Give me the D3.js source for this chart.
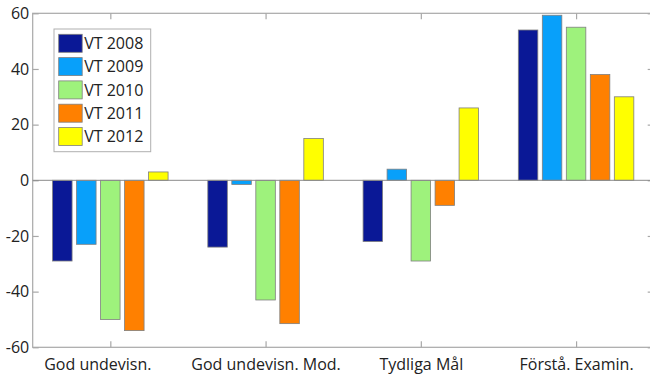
<!DOCTYPE html>
<html>
<head>
<meta charset="utf-8">
<script src="https://cdn.jsdelivr.net/npm/d3@7"></script>
<style>
  html, body { margin: 0; padding: 0; background: #fff; }
  svg { display: block; }
  text { font-family: "Open Sans", "Noto Sans", sans-serif; fill: #222; }
</style>
</head>
<body>
<svg id="chart" width="650" height="375"></svg>
<script>
const categories = ["God undevisn.", "God undevisn. Mod.", "Tydliga Mål", "Förstå. Examin."];
const seriesNames = ["VT 2008", "VT 2009", "VT 2010", "VT 2011", "VT 2012"];
const vt2008 = [-29, -24, -22, 54];
const vt2009 = [-23, -1.5, 4, 59.3];
const vt2010 = [-50, -43, -29, 55];
const vt2011 = [-54, -51.5, -9, 38];
const vt2012 = [3, 15, 26, 30];
const yTicks = [-60, -40, -20, 0, 20, 40, 60];
const seriesColors = ["#0a1896", "#08a0fa", "#9ef27c", "#ff8000", "#ffff00"];

const seriesValues = [vt2008, vt2009, vt2010, vt2011, vt2012];

const svg = d3.select("#chart");
const pLeft = 32.7, pRight = 653.7, pTop = 13.3, pBottom = 347.3;

const x = d3.scaleLinear().domain([0.5, 4.5]).range([pLeft, pRight]);
const y = d3.scaleLinear().domain([-60, 60]).range([pBottom, pTop]);
const groupStep = x(2) - x(1);
const inner = d3.scaleBand().domain(seriesNames)
  .range([-groupStep * 0.372, groupStep * 0.372]).paddingInner(0.1875).paddingOuter(0);

const frameColor = "#a8a8a8";
svg.append("rect").attr("x", pLeft).attr("y", pTop).attr("width", pRight - pLeft).attr("height", pBottom - pTop)
  .attr("fill", "none").attr("stroke", frameColor).attr("stroke-width", 1.2);

const yAxisL = d3.axisLeft(y).tickValues(yTicks).tickSize(-6).tickPadding(3.5).tickFormat((d) => String(d));
const gL = svg.append("g").attr("transform", `translate(${pLeft},0)`).call(yAxisL);
const yAxisR = d3.axisRight(y).tickValues(yTicks).tickSize(-6).tickFormat("");
const gR = svg.append("g").attr("transform", `translate(${pRight},0)`).call(yAxisR);
const xAxisB = d3.axisBottom(x).tickValues([1, 2, 3, 4]).tickSize(-6).tickPadding(11)
  .tickFormat((d) => categories[d - 1]);
const gB = svg.append("g").attr("transform", `translate(0,${pBottom})`).call(xAxisB);
const xAxisT = d3.axisTop(x).tickValues([1, 2, 3, 4]).tickSize(-6).tickFormat("");
const gT = svg.append("g").attr("transform", `translate(0,${pTop})`).call(xAxisT);

[gL, gR, gB, gT].forEach((g) => {
  g.select(".domain").remove();
  g.selectAll(".tick line").attr("stroke", frameColor).attr("stroke-width", 1.2);
  g.selectAll("text").style("font-size", "16px").attr("fill", "#222");
});
gB.selectAll(".tick text").attr("dx", (d) => (d === 1 ? -13 : 0));

const groups = svg.append("g");
seriesNames.forEach((name, si) => {
  groups.selectAll(null).data(seriesValues[si]).enter().append("rect")
    .attr("x", (d, i) => x(i + 1) + inner(name))
    .attr("width", inner.bandwidth())
    .attr("y", (d) => y(Math.max(0, d)))
    .attr("height", (d) => Math.abs(y(d) - y(0)))
    .attr("fill", seriesColors[si])
    .attr("stroke", "#7f7f7f")
    .attr("stroke-width", 0.8);
});

svg.append("line").attr("x1", pLeft).attr("x2", pRight).attr("y1", y(0)).attr("y2", y(0))
  .attr("stroke", "#8a8a8a").attr("stroke-width", 1);

const lg = svg.append("g").attr("transform", "translate(54,29)");
lg.append("rect").attr("x", 0).attr("y", 0).attr("width", 96.7).attr("height", 122.7)
  .attr("fill", "#fff").attr("stroke", "#b0b0b0").attr("stroke-width", 1);
seriesNames.forEach((name, i) => {
  const row = lg.append("g").attr("transform", `translate(4.7,${5.3 + i * 23.3})`);
  row.append("rect").attr("width", 23.5).attr("height", 18)
    .attr("fill", seriesColors[i]).attr("stroke", "#7f7f7f").attr("stroke-width", 0.8);
  row.append("text").attr("x", 25.5).attr("y", 9).attr("dy", "0.36em")
    .style("font-size", "16px").text(name);
});
</script>
</body>
</html>
